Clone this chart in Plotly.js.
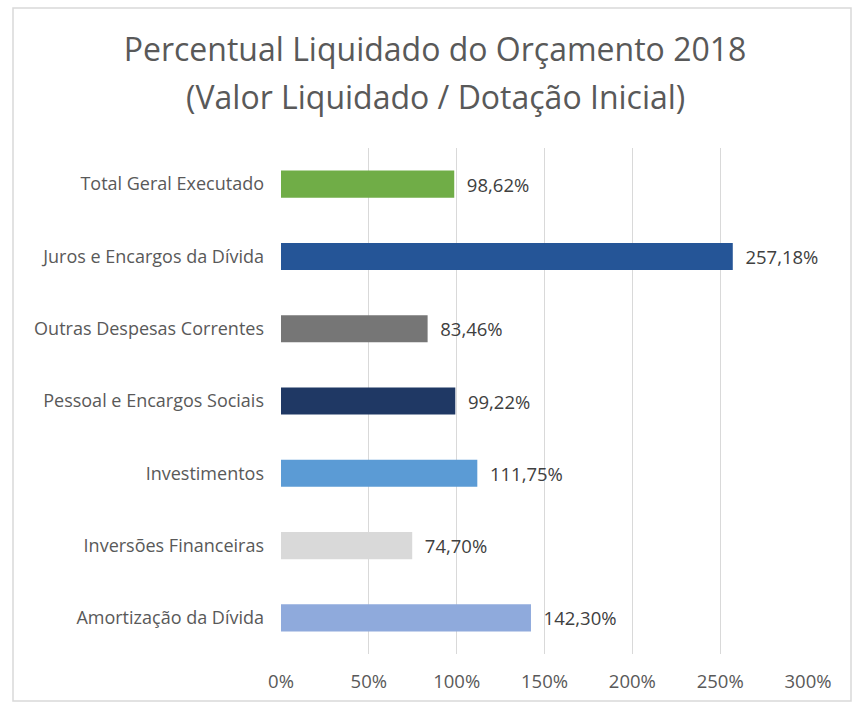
<!DOCTYPE html>
<html>
<head>
<meta charset="utf-8">
<script src="https://cdn.plot.ly/plotly-3.0.1.min.js"></script>
<style>html,body{margin:0;padding:0;background:#fff;}#chart{width:852px;height:704px;}</style>
</head>
<body>
<div id="chart"></div>
<script>
const categories = ["Total Geral Executado","Juros e Encargos da Dívida","Outras Despesas Correntes","Pessoal e Encargos Sociais","Investimentos","Inversões Financeiras","Amortização da Dívida"];
const values = [98.62, 257.18, 83.46, 99.22, 111.75, 74.70, 142.30];
const barColors = ["#70AD47","#255597","#767676","#1F3864","#5B9BD5","#D9D9D9","#8FAADC"];
const xTickVals = [0,50,100,150,200,250,300];
const xTickText = ["0%","50%","100%","150%","200%","250%","300%"];
const titleLine1 = "Percentual Liquidado do Orçamento 2018";
const titleLine2 = "(Valor Liquidado / Dotação Inicial)";

const font = "Open Sans, Noto Sans, sans-serif";
const trace = {
  type: "bar",
  orientation: "h",
  y: categories,
  x: values,
  marker: {color: barColors},
  texttemplate: "\u00a0\u00a0%{x:.2f}%",
  textposition: "outside",
  constraintext: "none",
  cliponaxis: false,
  textfont: {family: font, size: 18.5, color: "#404040"},
  hoverinfo: "none"
};
const layout = {
  width: 852, height: 704,
  margin: {l: 281, r: 44, t: 148, b: 50},
  paper_bgcolor: "#fff", plot_bgcolor: "#fff",
  separators: ",.",
  showlegend: false,
  bargap: 0.625,
  title: {text: titleLine1,
          font: {family: font, size: 32, color: "#595959"},
          x: 0.5106, xanchor: "center", y: 1 - 50/704, yanchor: "middle", yref: "container"},
  annotations: [{text: titleLine2, xref: "paper", yref: "paper", x: (435-281)/527, y: (654-97)/506,
                 xanchor: "center", yanchor: "middle", showarrow: false,
                 font: {family: font, size: 32, color: "#595959"}}],
  xaxis: {range: [0, 300], tickmode: "array", tickvals: xTickVals, ticktext: xTickText, showgrid: true, gridcolor: "#D9D9D9", gridwidth: 1,
          zeroline: false, showline: false, ticks: "", ticklabelstandoff: 14,
          tickfont: {family: font, size: 18.5, color: "#595959"}, fixedrange: true},
  yaxis: {autorange: "reversed", showgrid: false, zeroline: false, showline: false, ticks: "",
          ticklabelstandoff: 16, tickfont: {family: font, size: 18, color: "#595959"}, fixedrange: true},
  shapes: [{type: "rect", xref: "paper", yref: "paper", x0: (13-281)/527, x1: (851-281)/527,
            y0: (654-701)/506, y1: (654-8)/506, line: {color: "#D9D9D9", width: 1.5}, fillcolor: "rgba(0,0,0,0)", layer: "below"}]
};
Plotly.newPlot("chart", [trace], layout, {displayModeBar: false, staticPlot: true});
</script>
</body>
</html>
